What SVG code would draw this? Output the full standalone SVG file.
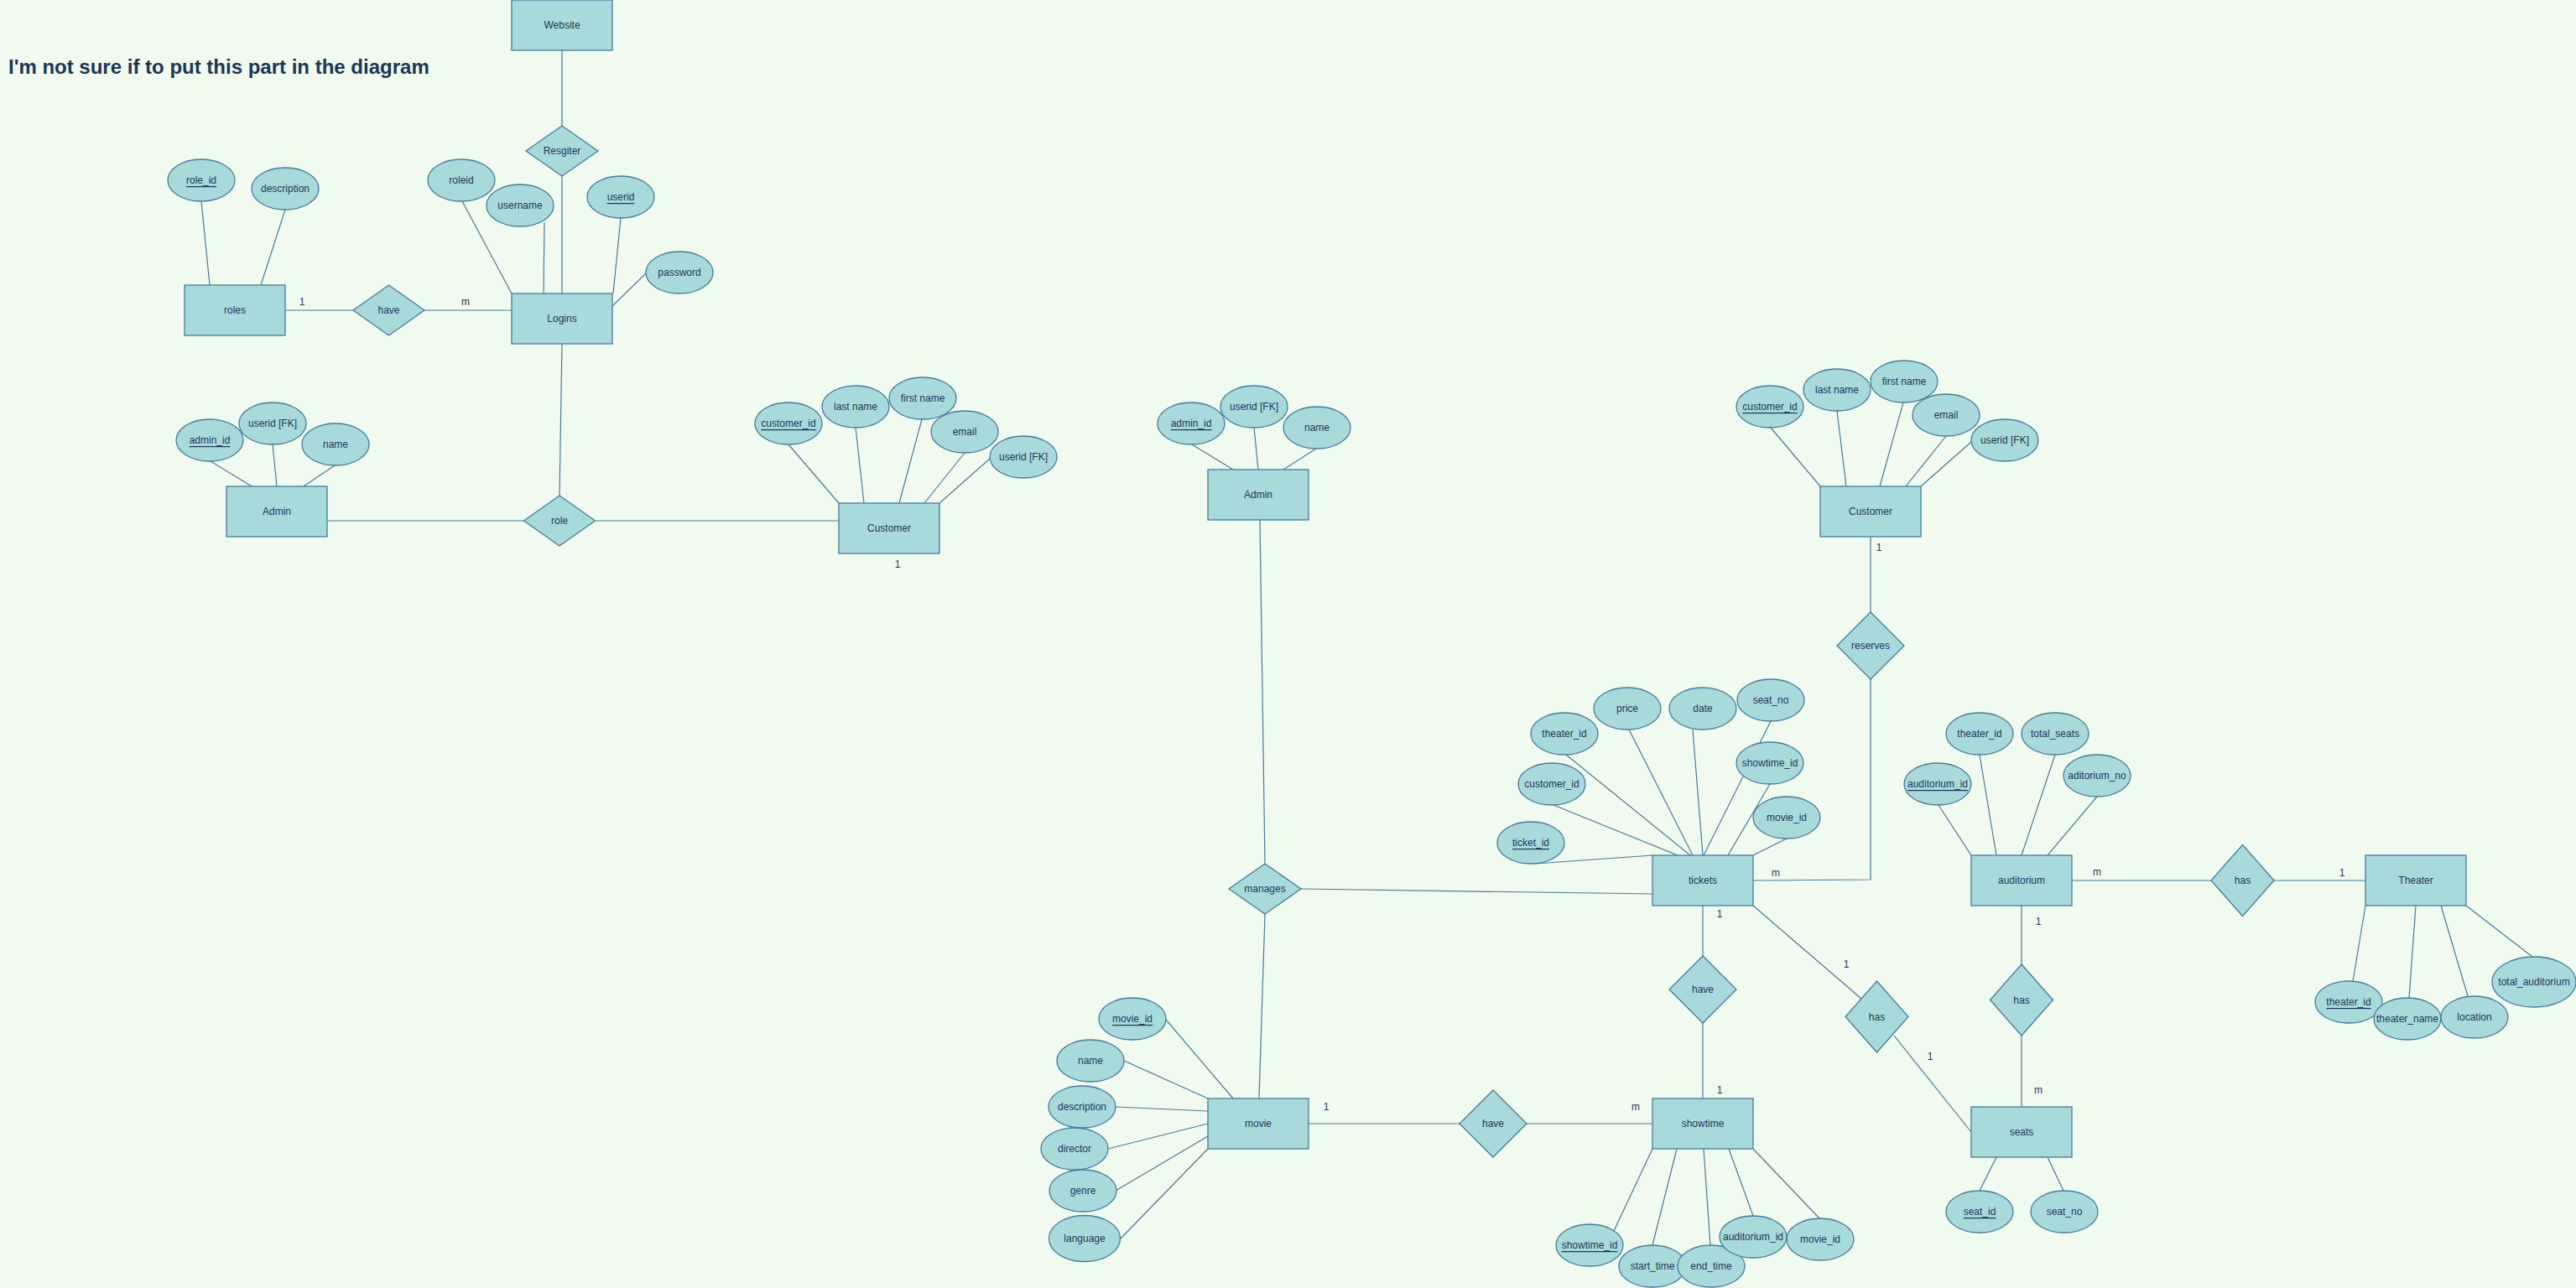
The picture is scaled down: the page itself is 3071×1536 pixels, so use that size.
<svg xmlns="http://www.w3.org/2000/svg" width="3071" height="1536" viewBox="0 0 3071 1536">
  <style>
    .ent { fill: #A8DADC; stroke: #457B9D; stroke-width: 1.3; }
    .rel { fill: #A8DADC; stroke: #457B9D; stroke-width: 1.3; }
    .att { fill: #A8DADC; stroke: #457B9D; stroke-width: 1.3; }
    .edge { fill: none; stroke: #457B9D; stroke-width: 1.2; }
    .lbl { font-family: "Liberation Sans", Arial, sans-serif; font-size: 12px; fill: #1D3557; text-anchor: middle; dominant-baseline: central; }
    .key { text-decoration: underline; }
    .card { font-family: "Liberation Sans", Arial, sans-serif; font-size: 12px; fill: #1D3557; text-anchor: middle; dominant-baseline: central; }
    .title { font-family: "Liberation Sans", Arial, sans-serif; font-size: 24px; font-weight: bold; fill: #1D3557; }
  </style>

  <rect x="0" y="0" width="3071" height="1536" fill="#F1FAEE"/>

  <text class="title" x="10" y="88">I'm not sure if to put this part in the diagram</text>

  <!-- connectors -->
  <g id="connectors">
    <!-- login / roles block -->
    <line class="edge" x1="670" y1="60" x2="670" y2="150"/>
    <line class="edge" x1="670" y1="210" x2="670" y2="350"/>
    <line class="edge" x1="240" y1="240" x2="250" y2="340"/>
    <line class="edge" x1="340" y1="250" x2="311" y2="340"/>
    <line class="edge" x1="551" y1="240" x2="610" y2="350"/>
    <line class="edge" x1="649" y1="265" x2="648" y2="350"/>
    <line class="edge" x1="740" y1="260" x2="731" y2="350"/>
    <line class="edge" x1="770" y1="326" x2="730" y2="365"/>
    <line class="edge" x1="340" y1="370" x2="421" y2="370"/>
    <line class="edge" x1="506" y1="370" x2="610" y2="370"/>
    <line class="edge" x1="670" y1="410" x2="667" y2="591"/>
    <line class="edge" x1="390" y1="621" x2="625" y2="621"/>
    <line class="edge" x1="710" y1="621" x2="1000" y2="621"/>
    <line class="edge" x1="251" y1="550" x2="300" y2="580"/>
    <line class="edge" x1="325" y1="530" x2="330" y2="580"/>
    <line class="edge" x1="399" y1="555" x2="362" y2="580"/>
    <line class="edge" x1="940" y1="530" x2="1000" y2="600"/>
    <line class="edge" x1="1020" y1="510" x2="1030" y2="600"/>
    <line class="edge" x1="1099" y1="500" x2="1072" y2="600"/>
    <line class="edge" x1="1150" y1="540" x2="1102" y2="600"/>
    <line class="edge" x1="1180" y1="547" x2="1120" y2="600"/>

    <!-- admin / customer -->
    <line class="edge" x1="1421" y1="530" x2="1470" y2="560"/>
    <line class="edge" x1="1495" y1="510" x2="1500" y2="560"/>
    <line class="edge" x1="1569" y1="535" x2="1530" y2="560"/>
    <line class="edge" x1="1502" y1="620" x2="1508" y2="1030"/>
    <line class="edge" x1="1508" y1="1090" x2="1501" y2="1310"/>
    <line class="edge" x1="1551" y1="1060" x2="1970" y2="1066"/>
    <line class="edge" x1="2111" y1="510" x2="2170" y2="580"/>
    <line class="edge" x1="2190" y1="490" x2="2201" y2="580"/>
    <line class="edge" x1="2269" y1="480" x2="2241" y2="580"/>
    <line class="edge" x1="2320" y1="520" x2="2272" y2="580"/>
    <line class="edge" x1="2350" y1="527" x2="2290" y2="580"/>
    <line class="edge" x1="2230" y1="640" x2="2230" y2="730"/>
    <polyline class="edge" points="2230,810 2230,1049 2090,1050"/>

    <!-- tickets -->
    <line class="edge" x1="1830" y1="1030" x2="1970" y2="1020"/>
    <line class="edge" x1="1852" y1="960" x2="2000" y2="1020"/>
    <line class="edge" x1="1867" y1="900" x2="2020" y2="1024"/>
    <line class="edge" x1="1942" y1="870" x2="2018" y2="1020"/>
    <line class="edge" x1="2018" y1="870" x2="2030" y2="1020"/>
    <line class="edge" x1="2111" y1="860" x2="2031" y2="1020"/>
    <line class="edge" x1="2110" y1="935" x2="2060" y2="1020"/>
    <line class="edge" x1="2130" y1="1000" x2="2090" y2="1020"/>
    <line class="edge" x1="2030" y1="1080" x2="2030" y2="1140"/>
    <line class="edge" x1="2030" y1="1220" x2="2030" y2="1310"/>
    <line class="edge" x1="2090" y1="1080" x2="2219" y2="1191"/>
    <line class="edge" x1="2258" y1="1235" x2="2350" y2="1350"/>

    <!-- auditorium / theater / seats -->
    <line class="edge" x1="2311" y1="960" x2="2350" y2="1020"/>
    <line class="edge" x1="2360" y1="900" x2="2380" y2="1020"/>
    <line class="edge" x1="2450" y1="900" x2="2410" y2="1020"/>
    <line class="edge" x1="2500" y1="950" x2="2441" y2="1020"/>
    <line class="edge" x1="2470" y1="1050" x2="2636" y2="1050"/>
    <line class="edge" x1="2711" y1="1050" x2="2820" y2="1050"/>
    <line class="edge" x1="2410" y1="1080" x2="2410" y2="1150"/>
    <line class="edge" x1="2410" y1="1235" x2="2410" y2="1320"/>
    <line class="edge" x1="2360" y1="1420" x2="2380" y2="1380"/>
    <line class="edge" x1="2460" y1="1420" x2="2441" y2="1380"/>
    <line class="edge" x1="2805" y1="1170" x2="2820" y2="1080"/>
    <line class="edge" x1="2872" y1="1190" x2="2880" y2="1080"/>
    <line class="edge" x1="2942" y1="1188" x2="2910" y2="1080"/>
    <line class="edge" x1="3019" y1="1141" x2="2940" y2="1080"/>

    <!-- movie / showtime -->
    <line class="edge" x1="1390" y1="1216" x2="1470" y2="1310"/>
    <line class="edge" x1="1340" y1="1265" x2="1440" y2="1310"/>
    <line class="edge" x1="1330" y1="1320" x2="1440" y2="1325"/>
    <line class="edge" x1="1321" y1="1370" x2="1440" y2="1340"/>
    <line class="edge" x1="1330" y1="1420" x2="1440" y2="1355"/>
    <line class="edge" x1="1335" y1="1478" x2="1440" y2="1370"/>
    <line class="edge" x1="1560" y1="1340" x2="1740" y2="1340"/>
    <line class="edge" x1="1820" y1="1340" x2="1970" y2="1340"/>
    <line class="edge" x1="1924" y1="1468" x2="1970" y2="1370"/>
    <line class="edge" x1="1970" y1="1485" x2="1999" y2="1370"/>
    <line class="edge" x1="2039" y1="1485" x2="2031" y2="1370"/>
    <line class="edge" x1="2090" y1="1450" x2="2061" y2="1370"/>
    <line class="edge" x1="2169" y1="1453" x2="2090" y2="1370"/>

    <!-- cardinalities -->
    <text class="card" x="360" y="360">1</text>
    <text class="card" x="555" y="360">m</text>
    <text class="card" x="1070" y="673">1</text>
    <text class="card" x="2240" y="653">1</text>
    <text class="card" x="2117" y="1041">m</text>
    <text class="card" x="2050" y="1090">1</text>
    <text class="card" x="2201" y="1150">1</text>
    <text class="card" x="2050" y="1300">1</text>
    <text class="card" x="2301" y="1260">1</text>
    <text class="card" x="2500" y="1040">m</text>
    <text class="card" x="2792" y="1041">1</text>
    <text class="card" x="2430" y="1099">1</text>
    <text class="card" x="2430" y="1300">m</text>
    <text class="card" x="1581" y="1320">1</text>
    <text class="card" x="1950" y="1320">m</text>
  </g>

  <!-- entities -->
  <g id="website"><rect class="ent" x="610" y="0" width="120" height="60"/><text class="lbl" x="670" y="30">Website</text></g>
  <g id="logins"><rect class="ent" x="610" y="350" width="120" height="60"/><text class="lbl" x="670" y="380">Logins</text></g>
  <g id="roles"><rect class="ent" x="220" y="340" width="120" height="60"/><text class="lbl" x="280" y="370">roles</text></g>
  <g id="admin-login"><rect class="ent" x="270" y="580" width="120" height="60"/><text class="lbl" x="330" y="610">Admin</text></g>
  <g id="customer-login"><rect class="ent" x="1000" y="600" width="120" height="60"/><text class="lbl" x="1060" y="630">Customer</text></g>
  <g id="admin"><rect class="ent" x="1440" y="560" width="120" height="60"/><text class="lbl" x="1500" y="590">Admin</text></g>
  <g id="customer"><rect class="ent" x="2170" y="580" width="120" height="60"/><text class="lbl" x="2230" y="610">Customer</text></g>
  <g id="tickets"><rect class="ent" x="1970" y="1020" width="120" height="60"/><text class="lbl" x="2030" y="1050">tickets</text></g>
  <g id="auditorium"><rect class="ent" x="2350" y="1020" width="120" height="60"/><text class="lbl" x="2410" y="1050">auditorium</text></g>
  <g id="theater"><rect class="ent" x="2820" y="1020" width="120" height="60"/><text class="lbl" x="2880" y="1050">Theater</text></g>
  <g id="seats"><rect class="ent" x="2350" y="1320" width="120" height="60"/><text class="lbl" x="2410" y="1350">seats</text></g>
  <g id="movie"><rect class="ent" x="1440" y="1310" width="120" height="60"/><text class="lbl" x="1500" y="1340">movie</text></g>
  <g id="showtime"><rect class="ent" x="1970" y="1310" width="120" height="60"/><text class="lbl" x="2030" y="1340">showtime</text></g>

  <!-- relationships -->
  <g id="rel-register"><polygon class="rel" points="670,150 713,180 670,210 627,180"/><text class="lbl" x="670" y="180">Resgiter</text></g>
  <g id="rel-have-roles"><polygon class="rel" points="463.5,340 506,370 463.5,400 421,370"/><text class="lbl" x="463.5" y="370">have</text></g>
  <g id="rel-role"><polygon class="rel" points="667,591 709.5,621 667,651 624.5,621"/><text class="lbl" x="667" y="621">role</text></g>
  <g id="rel-manages"><polygon class="rel" points="1508,1030 1551,1060 1508,1090 1465,1060"/><text class="lbl" x="1508" y="1060">manages</text></g>
  <g id="rel-reserves"><polygon class="rel" points="2230,730 2270,770 2230,810 2190,770"/><text class="lbl" x="2230" y="770">reserves</text></g>
  <g id="rel-have-showtime"><polygon class="rel" points="2030,1140 2070,1180 2030,1220 1990,1180"/><text class="lbl" x="2030" y="1180">have</text></g>
  <g id="rel-has-seats"><polygon class="rel" points="2237.5,1170 2275,1212.5 2237.5,1255 2200,1212.5"/><text class="lbl" x="2237.5" y="1212.5">has</text></g>
  <g id="rel-has-theater"><polygon class="rel" points="2673.5,1007.5 2711,1050 2673.5,1092.5 2636,1050"/><text class="lbl" x="2673.5" y="1050">has</text></g>
  <g id="rel-has-auditorium-seats"><polygon class="rel" points="2410,1150 2447.5,1192.5 2410,1235 2372.5,1192.5"/><text class="lbl" x="2410" y="1192.5">has</text></g>
  <g id="rel-have-movie"><polygon class="rel" points="1780,1300 1820,1340 1780,1380 1740,1340"/><text class="lbl" x="1780" y="1340">have</text></g>

  <!-- attributes -->
  <g id="att-role-id"><ellipse class="att" cx="240" cy="215" rx="40" ry="25"/><text class="lbl key" x="240" y="215">role_id</text></g>
  <g id="att-description-roles"><ellipse class="att" cx="340" cy="225" rx="40" ry="25"/><text class="lbl" x="340" y="225">description</text></g>
  <g id="att-roleid"><ellipse class="att" cx="550" cy="215" rx="40" ry="25"/><text class="lbl" x="550" y="215">roleid</text></g>
  <g id="att-username"><ellipse class="att" cx="620" cy="245" rx="40" ry="25"/><text class="lbl" x="620" y="245">username</text></g>
  <g id="att-userid"><ellipse class="att" cx="740" cy="235" rx="40" ry="25"/><text class="lbl key" x="740" y="235">userid</text></g>
  <g id="att-password"><ellipse class="att" cx="810" cy="325" rx="40" ry="25"/><text class="lbl" x="810" y="325">password</text></g>

  <g id="att-admin-id-1"><ellipse class="att" cx="250" cy="525" rx="40" ry="25"/><text class="lbl key" x="250" y="525">admin_id</text></g>
  <g id="att-admin-userid-1"><ellipse class="att" cx="325" cy="505" rx="40" ry="25"/><text class="lbl" x="325" y="505">userid [FK]</text></g>
  <g id="att-admin-name-1"><ellipse class="att" cx="400" cy="530" rx="40" ry="25"/><text class="lbl" x="400" y="530">name</text></g>

  <g id="att-customer-id-1"><ellipse class="att" cx="940" cy="505" rx="40" ry="25"/><text class="lbl key" x="940" y="505">customer_id</text></g>
  <g id="att-last-name-1"><ellipse class="att" cx="1020" cy="485" rx="40" ry="25"/><text class="lbl" x="1020" y="485">last name</text></g>
  <g id="att-first-name-1"><ellipse class="att" cx="1100" cy="475" rx="40" ry="25"/><text class="lbl" x="1100" y="475">first name</text></g>
  <g id="att-email-1"><ellipse class="att" cx="1150" cy="515" rx="40" ry="25"/><text class="lbl" x="1150" y="515">email</text></g>
  <g id="att-customer-userid-1"><ellipse class="att" cx="1220" cy="545" rx="40" ry="25"/><text class="lbl" x="1220" y="545">userid [FK]</text></g>

  <g id="att-admin-id-2"><ellipse class="att" cx="1420" cy="505" rx="40" ry="25"/><text class="lbl key" x="1420" y="505">admin_id</text></g>
  <g id="att-admin-userid-2"><ellipse class="att" cx="1495" cy="485" rx="40" ry="25"/><text class="lbl" x="1495" y="485">userid [FK]</text></g>
  <g id="att-admin-name-2"><ellipse class="att" cx="1570" cy="510" rx="40" ry="25"/><text class="lbl" x="1570" y="510">name</text></g>

  <g id="att-customer-id-2"><ellipse class="att" cx="2110" cy="485" rx="40" ry="25"/><text class="lbl key" x="2110" y="485">customer_id</text></g>
  <g id="att-last-name-2"><ellipse class="att" cx="2190" cy="465" rx="40" ry="25"/><text class="lbl" x="2190" y="465">last name</text></g>
  <g id="att-first-name-2"><ellipse class="att" cx="2270" cy="455" rx="40" ry="25"/><text class="lbl" x="2270" y="455">first name</text></g>
  <g id="att-email-2"><ellipse class="att" cx="2320" cy="495" rx="40" ry="25"/><text class="lbl" x="2320" y="495">email</text></g>
  <g id="att-customer-userid-2"><ellipse class="att" cx="2390" cy="525" rx="40" ry="25"/><text class="lbl" x="2390" y="525">userid [FK]</text></g>

  <g id="att-ticket-id"><ellipse class="att" cx="1825" cy="1005" rx="40" ry="25"/><text class="lbl key" x="1825" y="1005">ticket_id</text></g>
  <g id="att-ticket-customer-id"><ellipse class="att" cx="1850" cy="935" rx="40" ry="25"/><text class="lbl" x="1850" y="935">customer_id</text></g>
  <g id="att-ticket-theater-id"><ellipse class="att" cx="1865" cy="875" rx="40" ry="25"/><text class="lbl" x="1865" y="875">theater_id</text></g>
  <g id="att-price"><ellipse class="att" cx="1940" cy="845" rx="40" ry="25"/><text class="lbl" x="1940" y="845">price</text></g>
  <g id="att-date"><ellipse class="att" cx="2030" cy="845" rx="40" ry="25"/><text class="lbl" x="2030" y="845">date</text></g>
  <g id="att-ticket-seat-no"><ellipse class="att" cx="2111" cy="835" rx="40" ry="25"/><text class="lbl" x="2111" y="835">seat_no</text></g>
  <g id="att-ticket-showtime-id"><ellipse class="att" cx="2110" cy="910" rx="40" ry="25"/><text class="lbl" x="2110" y="910">showtime_id</text></g>
  <g id="att-ticket-movie-id"><ellipse class="att" cx="2130" cy="975" rx="40" ry="25"/><text class="lbl" x="2130" y="975">movie_id</text></g>

  <g id="att-auditorium-id"><ellipse class="att" cx="2310" cy="935" rx="40" ry="25"/><text class="lbl key" x="2310" y="935">auditorium_id</text></g>
  <g id="att-auditorium-theater-id"><ellipse class="att" cx="2360" cy="875" rx="40" ry="25"/><text class="lbl" x="2360" y="875">theater_id</text></g>
  <g id="att-total-seats"><ellipse class="att" cx="2450" cy="875" rx="40" ry="25"/><text class="lbl" x="2450" y="875">total_seats</text></g>
  <g id="att-aditorium-no"><ellipse class="att" cx="2500" cy="925" rx="40" ry="25"/><text class="lbl" x="2500" y="925">aditorium_no</text></g>

  <g id="att-theater-id"><ellipse class="att" cx="2800" cy="1195" rx="40" ry="25"/><text class="lbl key" x="2800" y="1195">theater_id</text></g>
  <g id="att-theater-name"><ellipse class="att" cx="2870" cy="1215" rx="40" ry="25"/><text class="lbl" x="2870" y="1215">theater_name</text></g>
  <g id="att-location"><ellipse class="att" cx="2950" cy="1213" rx="40" ry="25"/><text class="lbl" x="2950" y="1213">location</text></g>
  <g id="att-total-auditorium"><ellipse class="att" cx="3021" cy="1171" rx="50" ry="30"/><text class="lbl" x="3021" y="1171">total_auditorium</text></g>

  <g id="att-seat-id"><ellipse class="att" cx="2360" cy="1445" rx="40" ry="25"/><text class="lbl key" x="2360" y="1445">seat_id</text></g>
  <g id="att-seat-no"><ellipse class="att" cx="2461" cy="1445" rx="40" ry="25"/><text class="lbl" x="2461" y="1445">seat_no</text></g>

  <g id="att-movie-id"><ellipse class="att" cx="1350" cy="1215" rx="40" ry="25"/><text class="lbl key" x="1350" y="1215">movie_id</text></g>
  <g id="att-movie-name"><ellipse class="att" cx="1300" cy="1265" rx="40" ry="25"/><text class="lbl" x="1300" y="1265">name</text></g>
  <g id="att-movie-description"><ellipse class="att" cx="1290" cy="1320" rx="40" ry="25"/><text class="lbl" x="1290" y="1320">description</text></g>
  <g id="att-director"><ellipse class="att" cx="1281" cy="1370" rx="40" ry="25"/><text class="lbl" x="1281" y="1370">director</text></g>
  <g id="att-genre"><ellipse class="att" cx="1291" cy="1420" rx="40" ry="25"/><text class="lbl" x="1291" y="1420">genre</text></g>
  <g id="att-language"><ellipse class="att" cx="1293" cy="1477" rx="42.5" ry="27.5"/><text class="lbl" x="1293" y="1477">language</text></g>

  <g id="att-showtime-id"><ellipse class="att" cx="1895" cy="1485" rx="40" ry="25"/><text class="lbl key" x="1895" y="1485">showtime_id</text></g>
  <g id="att-start-time"><ellipse class="att" cx="1970" cy="1510" rx="40" ry="25"/><text class="lbl" x="1970" y="1510">start_time</text></g>
  <g id="att-end-time"><ellipse class="att" cx="2040" cy="1510" rx="40" ry="25"/><text class="lbl" x="2040" y="1510">end_time</text></g>
  <g id="att-showtime-auditorium-id"><ellipse class="att" cx="2090" cy="1475" rx="40" ry="25"/><text class="lbl" x="2090" y="1475">auditorium_id</text></g>
  <g id="att-showtime-movie-id"><ellipse class="att" cx="2170" cy="1478" rx="40" ry="25"/><text class="lbl" x="2170" y="1478">movie_id</text></g>
</svg>
